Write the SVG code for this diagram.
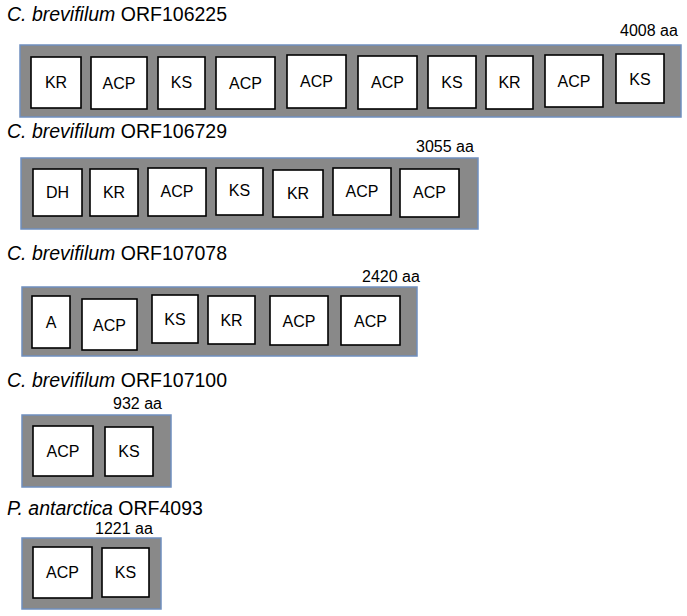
<svg xmlns="http://www.w3.org/2000/svg" width="687" height="616" viewBox="0 0 687 616">
<style>
.bar{fill:#898989;stroke:#6f8fbf;stroke-width:1.5}
.box rect{fill:#fff;stroke:#000;stroke-width:1.6}
.box text{font-family:"Liberation Sans",Arial,sans-serif;font-size:16px;text-anchor:middle;fill:#000}
.title{font-family:"Liberation Sans",Arial,sans-serif;font-size:19.5px;fill:#000}
.aa{font-family:"Liberation Sans",Arial,sans-serif;font-size:16px;fill:#000}
</style>
<rect width="687" height="616" fill="#fff"/>

<g id="orf106225">
<text class="title" x="7" y="21"><tspan font-style="italic">C. brevifilum</tspan> ORF106225</text>
<text class="aa" x="620" y="36">4008 aa</text>
<rect class="bar" x="20" y="45" width="661" height="72"/>
<g class="box" id="r1b1"><rect x="31" y="57" width="50" height="51"/><text x="56" y="88">KR</text></g>
<g class="box" id="r1b2"><rect x="91" y="57" width="56" height="52"/><text x="119" y="89">ACP</text></g>
<g class="box" id="r1b3"><rect x="158" y="57" width="47" height="52"/><text x="181.5" y="88">KS</text></g>
<g class="box" id="r1b4"><rect x="216" y="57" width="59" height="52"/><text x="245.5" y="89">ACP</text></g>
<g class="box" id="r1b5"><rect x="287" y="55" width="59" height="53"/><text x="316.5" y="87">ACP</text></g>
<g class="box" id="r1b6"><rect x="358" y="56" width="59" height="53"/><text x="387.5" y="88">ACP</text></g>
<g class="box" id="r1b7"><rect x="428" y="56" width="48" height="52"/><text x="452" y="88">KS</text></g>
<g class="box" id="r1b8"><rect x="486" y="56" width="47" height="53"/><text x="509.5" y="88">KR</text></g>
<g class="box" id="r1b9"><rect x="545" y="55" width="58" height="52"/><text x="574" y="87">ACP</text></g>
<g class="box" id="r1b10"><rect x="616" y="54" width="48" height="49"/><text x="640" y="85">KS</text></g>
</g>

<g id="orf106729">
<text class="title" x="7" y="138"><tspan font-style="italic">C. brevifilum</tspan> ORF106729</text>
<text class="aa" x="416" y="152">3055 aa</text>
<rect class="bar" x="21" y="158" width="457" height="71"/>
<g class="box" id="r2b1"><rect x="33" y="169" width="49" height="47"/><text x="57.5" y="198">DH</text></g>
<g class="box" id="r2b2"><rect x="90" y="169" width="48" height="47"/><text x="114" y="198">KR</text></g>
<g class="box" id="r2b3"><rect x="148" y="168" width="58" height="48"/><text x="177" y="197">ACP</text></g>
<g class="box" id="r2b4"><rect x="216" y="168" width="47" height="47"/><text x="239.5" y="196">KS</text></g>
<g class="box" id="r2b5"><rect x="273" y="170" width="50" height="47"/><text x="298" y="199">KR</text></g>
<g class="box" id="r2b6"><rect x="333" y="168" width="58" height="47"/><text x="362" y="197">ACP</text></g>
<g class="box" id="r2b7"><rect x="400" y="169" width="59" height="48"/><text x="429.5" y="198">ACP</text></g>
</g>

<g id="orf107078">
<text class="title" x="7" y="260"><tspan font-style="italic">C. brevifilum</tspan> ORF107078</text>
<text class="aa" x="362" y="282">2420 aa</text>
<rect class="bar" x="22" y="287" width="395" height="69"/>
<g class="box" id="r3b1"><rect x="32" y="296" width="38" height="52"/><text x="51" y="328">A</text></g>
<g class="box" id="r3b2"><rect x="82" y="299" width="55" height="51"/><text x="109.5" y="331">ACP</text></g>
<g class="box" id="r3b3"><rect x="152" y="295" width="46" height="48"/><text x="175" y="325">KS</text></g>
<g class="box" id="r3b4"><rect x="208" y="296" width="47" height="48"/><text x="231.5" y="326">KR</text></g>
<g class="box" id="r3b5"><rect x="270" y="296" width="58" height="49"/><text x="299" y="327">ACP</text></g>
<g class="box" id="r3b6"><rect x="341" y="296" width="59" height="49"/><text x="370.5" y="327">ACP</text></g>
</g>

<g id="orf107100">
<text class="title" x="7" y="387"><tspan font-style="italic">C. brevifilum</tspan> ORF107100</text>
<text class="aa" x="113" y="409">932 aa</text>
<rect class="bar" x="22" y="415" width="149" height="72"/>
<g class="box" id="r4b1"><rect x="33" y="426" width="60" height="50"/><text x="63" y="457">ACP</text></g>
<g class="box" id="r4b2"><rect x="105" y="427" width="48" height="49"/><text x="129" y="457">KS</text></g>
</g>

<g id="orf4093">
<text class="title" x="7" y="515"><tspan font-style="italic">P. antarctica</tspan> ORF4093</text>
<text class="aa" x="95" y="534">1221 aa</text>
<rect class="bar" x="22" y="538" width="139" height="71"/>
<g class="box" id="r5b1"><rect x="33" y="547" width="59" height="51"/><text x="62.5" y="578">ACP</text></g>
<g class="box" id="r5b2"><rect x="102" y="548" width="47" height="49"/><text x="125.5" y="578">KS</text></g>
</g>

<g id="connectors"/>
</svg>
